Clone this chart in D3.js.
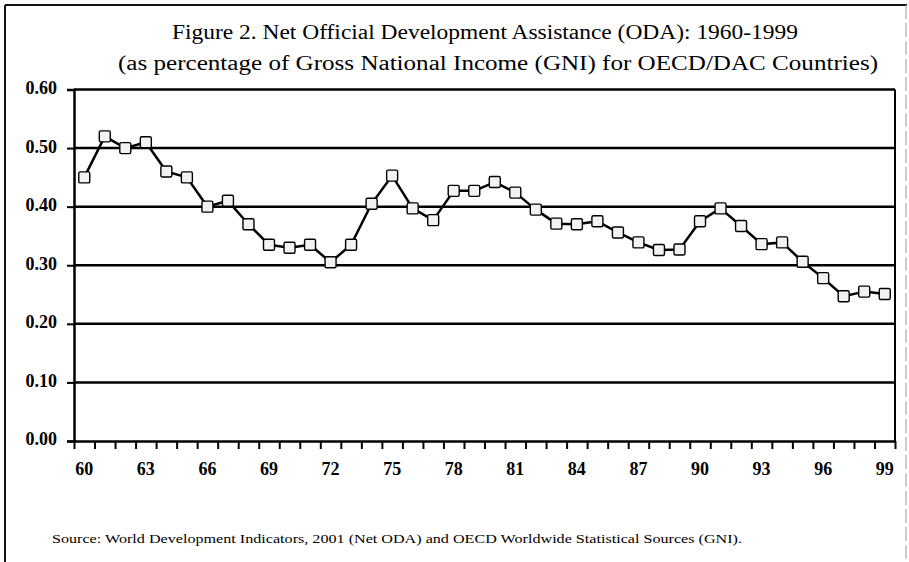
<!DOCTYPE html>
<html>
<head>
<meta charset="utf-8">
<script src="https://cdn.jsdelivr.net/npm/d3@7"></script>
<style>
  body { margin: 0; background: #fff; }
  svg { display: block; }
</style>
</head>
<body>
<svg id="chart" width="909" height="562"></svg>
<script>
// data (share of GNI, 1960-1999)
const years = d3.range(1960, 2000);
const odaValues = [
  0.45, 0.52, 0.50, 0.51, 0.46, 0.45, 0.40, 0.41, 0.37, 0.335,
  0.33, 0.335, 0.305, 0.335, 0.405, 0.453, 0.397, 0.377, 0.427, 0.427,
  0.442, 0.424, 0.395, 0.371, 0.37, 0.375, 0.356, 0.339, 0.326, 0.327,
  0.375, 0.397, 0.367, 0.336, 0.339, 0.306, 0.278, 0.247, 0.255, 0.251
];
const yTicks = [0, 0.1, 0.2, 0.3, 0.4, 0.5, 0.6];
const xLabelYears = [1960, 1963, 1966, 1969, 1972, 1975, 1978, 1981, 1984, 1987, 1990, 1993, 1996, 1999];
const titleLines = [
  "Figure 2. Net Official Development Assistance (ODA): 1960-1999",
  "(as percentage of  Gross National Income (GNI) for OECD/DAC Countries)"
];
const sourceText = "Source: World Development Indicators, 2001 (Net ODA) and OECD Worldwide Statistical Sources (GNI).";

const svg = d3.select("#chart");
const plotL = 74, plotR = 895, plotT = 89.5, plotB = 441;

// outer frame
svg.append("line").attr("x1", 5).attr("x2", 5).attr("y1", 5).attr("y2", 562)
  .attr("stroke", "#111").attr("stroke-width", 2);
svg.append("line").attr("x1", 5).attr("x2", 907).attr("y1", 5).attr("y2", 5)
  .attr("stroke", "#111").attr("stroke-width", 2);
svg.append("line").attr("x1", 906).attr("x2", 906).attr("y1", 5).attr("y2", 562)
  .attr("stroke", "#aaa").attr("stroke-width", 1.2).attr("stroke-dasharray", "14 4");

// title
const titleFont = "'Liberation Serif', 'Times New Roman', serif";
svg.append("text").attr("x", 172).attr("y", 39)
  .attr("font-family", titleFont).attr("font-size", 20)
  .attr("textLength", 626).attr("lengthAdjust", "spacingAndGlyphs")
  .text(titleLines[0]);
svg.append("text").attr("x", 118).attr("y", 70)
  .attr("font-family", titleFont).attr("font-size", 20)
  .attr("textLength", 760).attr("lengthAdjust", "spacingAndGlyphs")
  .text(titleLines[1]);

// scales
const x = d3.scaleBand().domain(years).range([plotL, plotR]).padding(0);
const xEdges = d3.scaleLinear().domain([0, years.length]).range([plotL, plotR]);
const y = d3.scaleLinear().domain([0, 0.6]).range([plotB, plotT]);

// gridlines
svg.append("g").selectAll("line")
  .data(yTicks.filter(d => d > 0))
  .enter().append("line")
  .attr("x1", plotL).attr("x2", plotR)
  .attr("y1", d => y(d)).attr("y2", d => y(d))
  .attr("stroke", "#000").attr("stroke-width", 2.5);

// plot right border
svg.append("line").attr("x1", plotR).attr("x2", plotR)
  .attr("y1", plotT).attr("y2", plotB)
  .attr("stroke", "#000").attr("stroke-width", 2);

// y axis
const yAxis = svg.append("g")
  .attr("transform", `translate(${plotL},0)`)
  .call(d3.axisLeft(y).tickValues(yTicks).tickFormat(d3.format(".2f")).tickSize(7).tickPadding(10));
yAxis.select(".domain").attr("stroke-width", 2.5);
yAxis.selectAll(".tick line").attr("stroke-width", 2);
yAxis.selectAll("text")
  .attr("font-family", "'Liberation Serif', serif").attr("font-weight", "bold")
  .attr("font-size", 18).attr("fill", "#000").attr("dy", "0.22em");

// x axis: ticks between categories
const xTickAxis = svg.append("g")
  .attr("transform", `translate(0,${plotB})`)
  .call(d3.axisBottom(xEdges).ticks(years.length).tickFormat("").tickSize(8).tickSizeOuter(0));
xTickAxis.select(".domain").attr("stroke-width", 2.5);
xTickAxis.selectAll(".tick line").attr("stroke-width", 2);

// x axis labels
const xLabelAxis = svg.append("g")
  .attr("transform", `translate(0,${plotB})`)
  .call(d3.axisBottom(x).tickValues(xLabelYears).tickFormat(d => String(d).slice(2)).tickSize(0).tickPadding(21));
xLabelAxis.select(".domain").remove();
xLabelAxis.selectAll("text")
  .attr("font-family", "'Liberation Serif', serif").attr("font-weight", "bold")
  .attr("font-size", 18).attr("fill", "#000");

// series line
const line = d3.line()
  .x((d, i) => x(years[i]) + x.bandwidth() / 2)
  .y(d => y(d));
svg.append("path").datum(odaValues)
  .attr("d", line)
  .attr("fill", "none").attr("stroke", "#000").attr("stroke-width", 2.5)
  .attr("stroke-linejoin", "round");

// markers
const ms = 11;
svg.append("g").selectAll("rect")
  .data(odaValues)
  .enter().append("rect")
  .attr("x", (d, i) => x(years[i]) + x.bandwidth() / 2 - ms / 2)
  .attr("y", d => y(d) - ms / 2)
  .attr("width", ms).attr("height", ms)
  .attr("rx", 1.5)
  .attr("fill", "#f2f2f2").attr("stroke", "#000").attr("stroke-width", 1.4);

// source note
svg.append("text").attr("x", 52).attr("y", 543)
  .attr("font-family", titleFont).attr("font-size", 13)
  .attr("textLength", 690).attr("lengthAdjust", "spacingAndGlyphs")
  .text(sourceText);
</script>
</body>
</html>
